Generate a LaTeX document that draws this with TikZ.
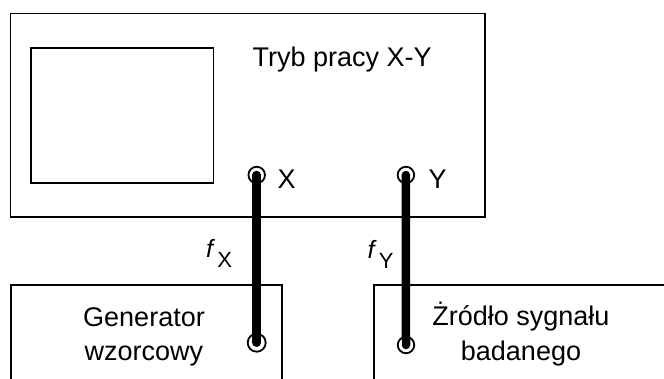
\documentclass[tikz,border=0pt]{standalone}
\usepackage{fontspec}
\setmainfont{Liberation Sans}
\begin{document}
\begin{tikzpicture}[x=1pt,y=-1pt,
  box/.style={draw, line width=1.6pt, inner sep=0pt, rectangle},
  txt/.style={inner sep=0pt, font=\fontsize{27}{34.5}\selectfont},
  flabel/.style={inner sep=0pt, anchor=base west, font=\fontsize{22}{22}\selectfont},
  jack/.style={draw, circle, line width=1.8pt, inner sep=0pt, minimum size=16.5pt},
  cable/.style={line width=8.5pt, line cap=round}]
\clip (0,0) rectangle (664,378);
% oscilloscope
\node[box, minimum width=474.7pt, minimum height=203.4pt] (osc) at (247.7,115) {};
\node[box, minimum width=182.6pt, minimum height=135pt] (screen) at (122,115.2) {};
\node[txt, anchor=base] (mode) at (342.2,66.7) {Tryb pracy X-Y};
\node[jack] (xt) at (256.7,175) {};
\node[jack] (yt) at (405.9,175) {};
\node[txt, anchor=base west] (xl) at (277.5,188.3) {X};
\node[txt, anchor=base west] (yl) at (428.5,188.3) {Y};
% sources
\node[box, minimum width=271pt, minimum height=130pt, anchor=north west] (gen) at (10.3,284) {};
\node[box, minimum width=330pt, minimum height=130pt, anchor=north west] (src) at (373,284) {};
\node[txt, align=center, anchor=base] (gentxt) at (144,360.7) {Generator\\wzorcowy};
\node[txt, align=center, anchor=base] (srctxt) at (521,360.3) {Żródło sygnału\\badanego};
\node[jack, minimum size=18pt] (xb) at (256.7,342.7) {};
\node[jack] (yb) at (406,345) {};
% frequency labels
\node[flabel] (fx) at (206,257.7) {{\fontsize{25}{25}\selectfont\textit{f}}\kern2pt\raisebox{-10pt}{X}};
\node[flabel] (fy) at (367.5,258) {{\fontsize{25}{25}\selectfont\textit{f}}\kern2pt\raisebox{-10pt}{Y}};
% cables
\draw[cable] (xt.center) -- (xb.center);
\draw[cable] (yt.center) -- (yb.center);
\end{tikzpicture}
\end{document}
